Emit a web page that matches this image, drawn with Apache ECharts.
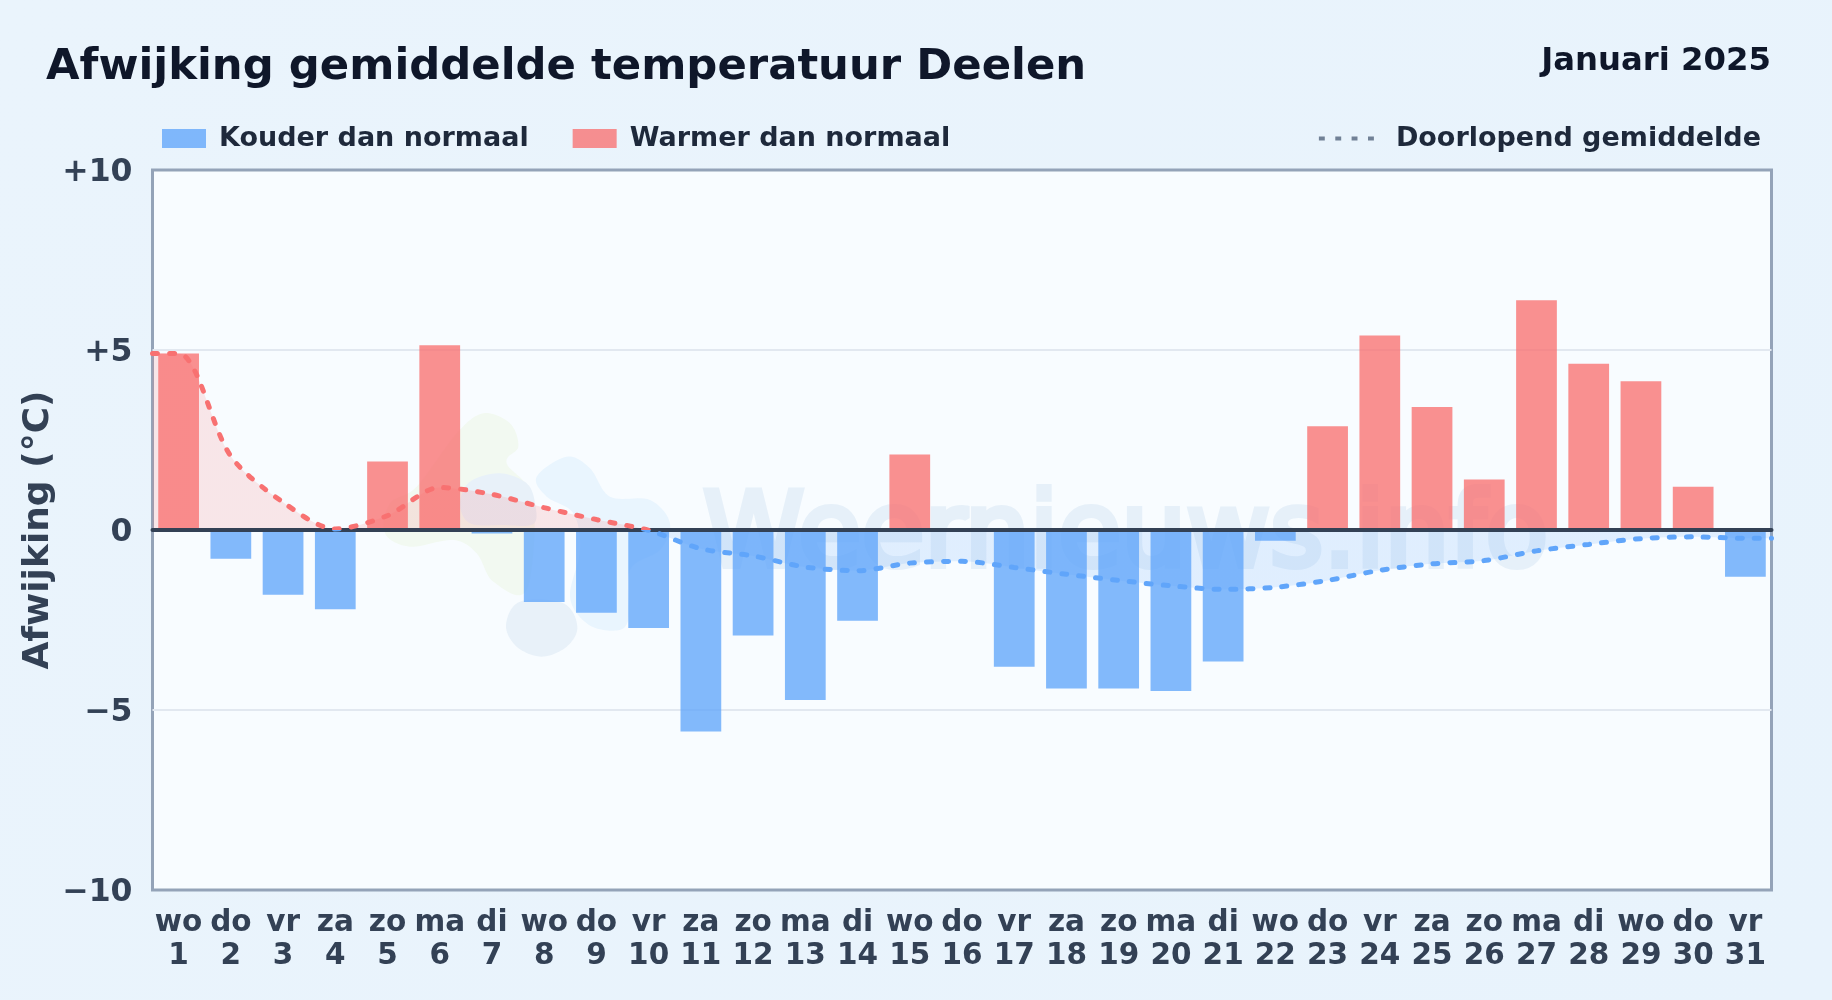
<!DOCTYPE html>
<html><head><meta charset="utf-8">
<style>html,body{margin:0;padding:0;background:#e8f3fc}#c{width:1832px;height:1000px}</style>
<script src="https://cdn.jsdelivr.net/npm/echarts@6/dist/echarts.min.js"></script>
</head><body><div id="c"></div>
<script>
const weekdays = ['wo','do','vr','za','zo','ma','di','wo','do','vr','za','zo','ma','di','wo','do','vr','za','zo','ma','di','wo','do','vr','za','zo','ma','di','wo','do','vr'];
const dayNumbers = [1,2,3,4,5,6,7,8,9,10,11,12,13,14,15,16,17,18,19,20,21,22,23,24,25,26,27,28,29,30,31];
const anomaly = [4.9,-0.8,-1.8,-2.2,1.9,5.13,-0.1,-2.0,-2.3,-2.72,-5.6,-2.93,-4.72,-2.52,2.1,-0.05,-3.8,-4.4,-4.4,-4.47,-3.65,-0.3,2.88,5.4,3.42,1.4,6.38,4.62,4.13,1.2,-1.3];
const runningMean = [4.9,2.05,0.77,0.03,0.4,1.18,0.99,0.62,0.29,-0.01,-0.52,-0.72,-1.03,-1.13,-0.92,-0.87,-1.04,-1.23,-1.4,-1.55,-1.65,-1.59,-1.4,-1.12,-0.94,-0.85,-0.58,-0.4,-0.24,-0.19,-0.23];
const yTicks = {min:-10,max:10,step:5};

const BLUE='#60a5fa', RED='#f87171';
const BAR_BLUE='rgba(96,165,250,.78)', BAR_RED='rgba(248,113,113,.78)';
const FONT='"DejaVu Sans"';
const categories = weekdays.map((w,i)=>w+'\n'+dayNumbers[i]);
const cold = anomaly.map(v=>v<0?v:null);
const warm = anomaly.map(v=>v>=0?v:null);
const meanPts = [[0,runningMean[0]]].concat(runningMean.map((v,i)=>[i+.5,v]),[[runningMean.length,runningMean[runningMean.length-1]]]);
// hard colour change at the zero line (plot runs 170..890 px)
const splitColour=(up,down)=>({type:'linear',global:true,x:0,y:170,x2:0,y2:890,colorStops:[{offset:0,color:up},{offset:.5,color:up},{offset:.5,color:down},{offset:1,color:down}]});

// faint logo behind the plot: rounded outlines from a few guide points
const z3=a=>[360+a[0]/3,390+a[1]/3];
function rounded(pts){
  const p=pts.map(z3),n=p.length,out=[];
  for(let i=0;i<n;i++){const a=p[(i-1+n)%n],b=p[i],c=p[(i+1)%n],d=p[(i+2)%n];
    for(let k=0;k<12;k++){const t=k/12,t2=t*t,t3=t2*t;
      out.push([0,1].map(j=>.5*(2*b[j]+(c[j]-a[j])*t+(2*a[j]-5*b[j]+4*c[j]-d[j])*t2+(3*b[j]-a[j]-3*c[j]+d[j])*t3)));}}
  return out;
}
const wm=(pts,fill)=>({type:'polygon',z:1,silent:true,shape:{points:rounded(pts)},style:{fill}});

const chart=echarts.init(document.getElementById('c'),null,{renderer:'canvas'});
chart.setOption({
  animation:false,
  backgroundColor:{type:'linear',x:0,y:0,x2:1,y2:1,colorStops:[{offset:0,color:'#eaf4fc'},{offset:1,color:'#e8f3fc'}]},
  textStyle:{fontFamily:FONT},
  title:[
    {text:'Afwijking gemiddelde temperatuur Deelen',left:41,top:41,textStyle:{fontFamily:FONT,fontWeight:'bold',fontSize:43.35,color:'#0f172a'}},
    {text:'Januari 2025',right:56,top:41,textStyle:{fontFamily:FONT,fontWeight:'bold',fontSize:32.3,color:'#0f172a'}}
  ],
  legend:[
    {left:157,top:120,itemWidth:44,itemHeight:19,itemGap:44,selectedMode:false,icon:'rect',
     textStyle:{fontFamily:FONT,fontWeight:'bold',fontSize:27,color:'#1e293b',padding:[0,0,0,8]},
     data:['Kouder dan normaal','Warmer dan normaal']},
    {right:66,top:120,itemWidth:55,itemHeight:4,selectedMode:false,
     textStyle:{fontFamily:FONT,fontWeight:'bold',fontSize:27,color:'#1e293b',padding:[0,0,0,17]},
     data:[{name:'Doorlopend gemiddelde',icon:'path://M0 0h6v4h-6zM16.7 0h6v4h-6zM33.3 0h6v4h-6zM50 0h6v4h-6z',itemStyle:{color:'#64748b',opacity:.9}}]}
  ],
  grid:{left:152.5,right:60.5,top:170,height:720,show:true,backgroundColor:'#f8fcff',borderColor:'#94a3b8',borderWidth:3,containLabel:false},
  xAxis:[
    {type:'category',data:categories,position:'bottom',
     axisLine:{show:false,onZero:false},axisTick:{show:false},splitLine:{show:false},
     axisLabel:{interval:0,margin:17,hideOverlap:false,fontFamily:FONT,fontWeight:'bold',fontSize:29.5,lineHeight:33,color:'#334155'}},
    {type:'value',min:0,max:dayNumbers.length,show:true,z:5,
     axisLine:{show:true,onZero:true,lineStyle:{color:'#334155',width:4}},
     axisTick:{show:false},axisLabel:{show:false},splitLine:{show:false}}
  ],
  yAxis:{type:'value',min:yTicks.min,max:yTicks.max,interval:yTicks.step,
    name:'Afwijking (°C)',nameLocation:'middle',nameGap:96,nameMoveOverlap:false,
    nameTextStyle:{fontFamily:FONT,fontWeight:'bold',fontSize:36,color:'#334155'},
    axisLine:{show:false},axisTick:{show:false},
    splitLine:{show:true,showMinLine:false,showMaxLine:false,lineStyle:{color:'#e2e8f0',width:2}},
    axisLabel:{margin:20,color:'#334155',
      rich:{t:{fontFamily:FONT,fontWeight:'bold',fontSize:31.5,color:'#334155',padding:[6,0,0,0]}},
      formatter:v=>'{t|'+(v>0?'+'+v:(v<0?'\u2212'+Math.abs(v):'0'))+'}'}},
  graphic:{elements:[
    wm([[370,70],[450,100],[475,170],[440,220],[520,330],[500,600],[400,575],[350,490],[280,450],[150,470],[75,430],[90,340],[170,290],[290,130]],'#f2f9f1'),
    wm([[620,200],[690,235],[750,320],[870,330],[930,400],[900,480],[810,540],[805,690],[760,722],[680,700],[630,620],[660,480],[640,370],[560,320],[530,260]],'#e9f5fe'),
    wm([[420,250],[500,280],[525,340],[520,402],[430,405],[330,400],[300,340],[330,275]],'#e8f1f9'),
    wm([[480,635],[610,640],[652,710],[620,770],[545,800],[470,770],[438,705]],'#e8f1f9'),
    {type:'text',z:1,silent:true,x:703,y:488,style:{text:'Weernieuws.info',font:'normal 102.5px "DejaVu Sans"',fill:'#e6f0f9',stroke:'#e6f0f9',lineWidth:6,textVerticalAlign:'top'}}
  ]},
  series:[
    {name:'Kouder dan normaal',type:'bar',stack:'d',barWidth:'78%',z:3,data:cold,itemStyle:{color:BAR_BLUE}},
    {name:'Warmer dan normaal',type:'bar',stack:'d',barWidth:'78%',z:3,data:warm,itemStyle:{color:BAR_RED}},
    {name:'vlak',type:'line',xAxisIndex:1,smooth:.3,showSymbol:false,z:2,data:meanPts,
     lineStyle:{opacity:0,width:0},areaStyle:{opacity:.16,color:splitColour(RED,BLUE)}},
    {name:'Doorlopend gemiddelde',type:'line',xAxisIndex:1,smooth:.3,showSymbol:false,z:6,data:meanPts,
     lineStyle:{width:5,type:[5,12],cap:'round',color:splitColour(RED,BLUE)}}
  ]
});
</script></body></html>
